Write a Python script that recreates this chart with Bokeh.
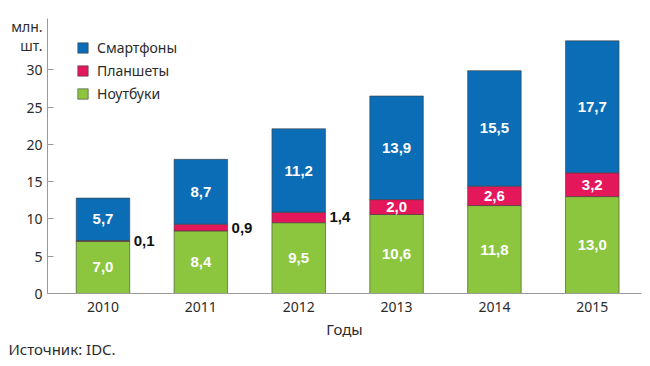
from bokeh.plotting import figure
from bokeh.models import (ColumnDataSource, Range1d, FixedTicker, Legend, LegendItem, Title)
from bokeh.core.properties import value
from bokeh.embed import file_html
from bokeh.resources import INLINE

years = ["2010", "2011", "2012", "2013", "2014", "2015"]
notebooks = [7.0, 8.4, 9.5, 10.6, 11.8, 13.0]
tablets = [0.1, 0.9, 1.4, 2.0, 2.6, 3.2]
smartphones = [5.7, 8.7, 11.2, 13.9, 15.5, 17.7]
y_ticks = [0, 5, 10, 15, 20, 25, 30]
y_unit = "млн.\nшт."
y_unit_pos = 34.55
series_names = ["Ноутбуки", "Планшеты", "Смартфоны"]
colors = ["#8cc63f", "#e5175b", "#0a6db6"]
source_text = "Источник: IDC."

BAR_W = 0.547
FONT = "Noto Sans"
VFONT = "Liberation Sans"
W, H = 645, 364

def fmt(v):
    return f"{v:.1f}".replace(".", ",")

xs = list(range(len(years)))
src = ColumnDataSource(dict(x=xs, nb=notebooks, tb=tablets, sp=smartphones))

p = figure(width=W, height=H, output_backend="svg", toolbar_location=None,
           x_range=Range1d(-0.567, 5.503), y_range=Range1d(0, 36.9),
           min_border_left=47, min_border_right=W - 47 - 594, min_border_top=18,
           min_border_bottom=H - 18 - 275)
p.outline_line_color = None
p.xgrid.grid_line_color = None
p.ygrid.grid_line_color = None

rs = p.vbar_stack(["nb", "tb", "sp"], x="x", width=BAR_W, source=src,
                  color=colors, line_color="#3d3d3d", line_width=1, line_alpha=0.6)

# x axis
p.xaxis.ticker = FixedTicker(ticks=xs)
p.xaxis.major_label_overrides = {i: y for i, y in enumerate(years)}
p.xaxis.major_tick_in = 0
p.xaxis.major_tick_out = 0
p.xaxis.minor_tick_line_color = None
p.xaxis.axis_line_color = "#9a9a9a"
p.xaxis.major_label_standoff = 8
p.xaxis.major_label_text_font = FONT
p.xaxis.major_label_text_font_size = "14px"
p.xaxis.major_label_text_color = "#2b2b2b"
p.xaxis.axis_label = "Годы"
p.xaxis.axis_label_text_font = FONT
p.xaxis.axis_label_text_font_size = "15px"
p.xaxis.axis_label_text_font_style = "normal"
p.xaxis.axis_label_text_color = "#2b2b2b"
p.xaxis.axis_label_standoff = 4

# y axis: numeric ticks drawn as (minor) inward ticks, unit text as an extra label
p.yaxis.ticker = FixedTicker(ticks=y_ticks + [y_unit_pos], minor_ticks=y_ticks)
p.yaxis.major_label_overrides = {y_unit_pos: y_unit}
p.yaxis.major_tick_line_color = None
p.yaxis.major_tick_in = 0
p.yaxis.major_tick_out = 0
p.yaxis.minor_tick_in = 6
p.yaxis.minor_tick_out = 0
p.yaxis.minor_tick_line_color = "#9a9a9a"
p.yaxis.axis_line_color = "#9a9a9a"
p.yaxis.major_label_standoff = 5
p.yaxis.major_label_text_font = FONT
p.yaxis.major_label_text_font_size = "14px"
p.yaxis.major_label_text_color = "#2b2b2b"
p.yaxis.major_label_text_line_height = 1.05

# value labels
in_x, in_y, in_t = [], [], []
out_x, out_y, out_t = [], [], []
for i in xs:
    n, t, s = notebooks[i], tablets[i], smartphones[i]
    in_x += [i, i]
    in_y += [n / 2, n + t + s / 2]
    in_t += [fmt(n), fmt(s)]
    if t >= 2.0:
        in_x.append(i); in_y.append(n + t / 2); in_t.append(fmt(t))
    else:
        out_x.append(i + BAR_W / 2); out_y.append(n + t / 2); out_t.append(fmt(t))

p.text(x=in_x, y=in_y, text=in_t, text_align="center", text_baseline="middle",
       text_font=value(VFONT), text_font_style="bold", text_font_size="15px",
       text_color="white")
p.text(x=out_x, y=out_y, text=out_t, text_align="left", text_baseline="middle",
       x_offset=4, text_font=value(VFONT), text_font_style="bold",
       text_font_size="15px", text_color="#111111")

# legend
legend = Legend(items=[LegendItem(label=series_names[k], renderers=[rs[k]]) for k in (2, 1, 0)],
                location=(29, 190), padding=0, margin=0, spacing=3,
                glyph_width=13, glyph_height=13, label_height=20, label_standoff=8,
                label_text_font=FONT, label_text_font_size="14px", label_text_color="#2b2b2b",
                border_line_alpha=0, background_fill_alpha=0)
p.add_layout(legend)

# source note below the axis title
p.add_layout(Title(text=source_text, align="left", offset=-39, standoff=-9,
                   text_font=FONT, text_font_size="15px", text_font_style="normal",
                   text_color="#2b2b2b"), "below")

open("out.html", "w").write(file_html(p, INLINE))
